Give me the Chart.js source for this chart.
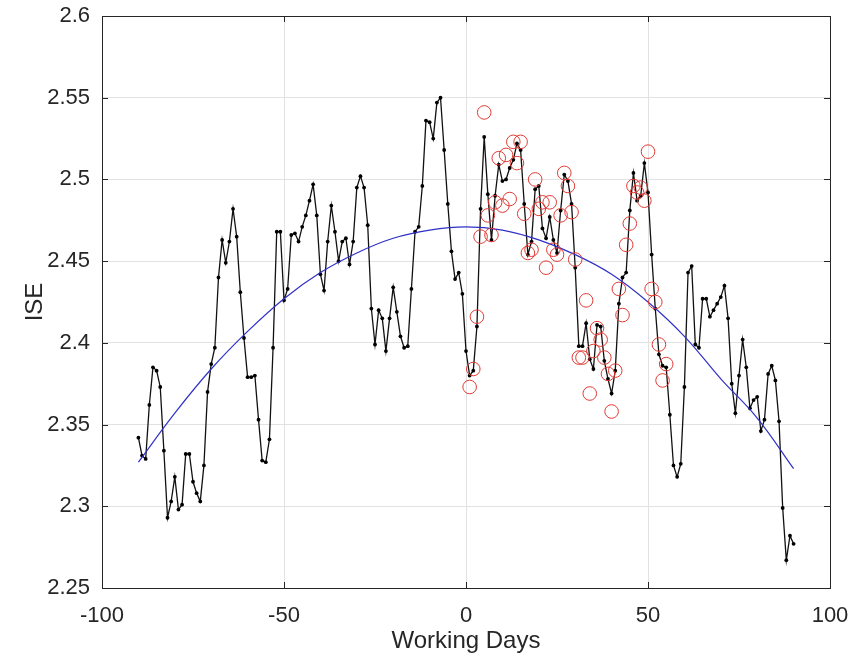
<!DOCTYPE html>
<html><head><meta charset="utf-8">
<script src="https://cdn.jsdelivr.net/npm/chart.js@4/dist/chart.umd.min.js"></script>
<style>html,body{margin:0;padding:0;background:#fff}canvas{display:block}</style>
</head><body>
<canvas id="c" width="850" height="662"></canvas>
<script>
// Black series: working day and ISE value
const days = [-90,-89,-88,-87,-86,-85,-84,-83,-82,-81,-80,-79,-78,-77,-76,-75,-74,-73,-72,-71,
-70,-69,-68,-67,-66,-65,-64,-63,-62,-61,-60,-59,-58,-57,-56,-55,-54,-53,-52,-51,
-50,-49,-48,-47,-46,-45,-44,-43,-42,-41,-40,-39,-38,-37,-36,-35,-34,-33,-32,-31,
-30,-29,-28,-27,-26,-25,-24,-23,-22,-21,-20,-19,-18,-17,-16,-15,-14,-13,-12,-11,
-10,-9,-8,-7,-6,-5,-4,-3,-2,-1,0,1,2,3,4,5,6,7,8,9,
10,11,12,13,14,15,16,17,18,19,20,21,22,23,24,25,26,27,28,29,
30,31,32,33,34,35,36,37,38,39,40,41,42,43,44,45,46,47,48,49,
50,51,52,53,54,55,56,57,58,59,60,61,62,63,64,65,66,67,68,69,
70,71,72,73,74,75,76,77,78,79,80,81,82,83,84,85,86,87,88,89,90];
const ise = [2.342,2.331,2.329,2.362,2.385,2.383,2.373,2.334,2.293,2.303,2.318,2.298,2.301,2.332,2.332,2.315,2.308,2.303,2.325,2.370,
2.387,2.397,2.440,2.463,2.449,2.462,2.482,2.465,2.431,2.403,2.379,2.379,2.380,2.353,2.328,2.327,2.341,2.397,2.468,2.468,
2.426,2.433,2.466,2.467,2.462,2.471,2.478,2.487,2.497,2.478,2.442,2.432,2.462,2.484,2.468,2.450,2.462,2.464,2.448,2.462,
2.495,2.502,2.495,2.472,2.421,2.399,2.420,2.415,2.395,2.415,2.434,2.419,2.404,2.397,2.398,2.433,2.468,2.471,2.496,2.536,
2.535,2.525,2.547,2.550,2.518,2.485,2.456,2.439,2.443,2.430,2.395,2.380,2.383,2.410,2.482,2.526,2.491,2.463,2.490,2.509,
2.499,2.500,2.507,2.512,2.522,2.518,2.485,2.454,2.462,2.494,2.496,2.470,2.464,2.477,2.463,2.455,2.481,2.503,2.499,2.485,
2.446,2.398,2.398,2.412,2.390,2.384,2.411,2.410,2.389,2.378,2.369,2.383,2.424,2.440,2.443,2.481,2.504,2.487,2.490,2.510,
2.492,2.454,2.421,2.393,2.386,2.385,2.356,2.325,2.318,2.326,2.373,2.443,2.447,2.399,2.397,2.427,2.427,2.416,2.420,2.424,
2.428,2.435,2.415,2.375,2.357,2.380,2.402,2.385,2.360,2.365,2.367,2.346,2.353,2.381,2.386,2.377,2.352,2.299,2.267,2.282,2.277];

// Red circles
const redDays = [1,2,3,4,5,6,7,8,9,10,11,12,13,14,15,16,17,18,19,20,21,22,23,24,25,26,27,28,
29,30,31,32,33,34,35,36,37,38,39,40,41,42,43,44,45,46,47,48,49,50,51,52,53,54,55];
const redIse = [2.373,2.384,2.416,2.465,2.541,2.478,2.466,2.486,2.513,2.484,2.515,2.488,2.523,2.510,2.523,2.479,2.455,2.457,2.500,2.482,2.486,2.446,2.486,2.457,2.454,2.478,2.504,2.496,
2.480,2.451,2.391,2.391,2.426,2.369,2.395,2.409,2.402,2.391,2.381,2.358,2.383,2.433,2.417,2.460,2.473,2.496,2.492,2.495,2.487,2.517,2.433,2.425,2.399,2.377,2.387];

// Blue fitted curve
const fitDays = [-90,-80,-70,-60,-50,-40,-30,-20,-10,0,10,20,30,40,50,60,70,80,90];
const fitIse = [2.327,2.357,2.384,2.407,2.427,2.443,2.455,2.464,2.469,2.471,2.469,2.463,2.454,2.442,2.425,2.404,2.378,2.354,2.323];

const xTicks = [-100,-50,0,50,100];
const xTickLabels = ['-100','-50','0','50','100'];
const yTicks = [2.25,2.3,2.35,2.4,2.45,2.5,2.55,2.6];
const yTickLabels = ['2.25','2.3','2.35','2.4','2.45','2.5','2.55','2.6'];

const toPts = (xs, ys) => xs.map((x, i) => ({x: x, y: ys[i]}));

const TXT = '#262626';
const FONT = "'Liberation Sans', Arial, Helvetica, sans-serif";

const framePlugin = {
  id: 'frame',
  afterDraw(chart) {
    const {ctx, chartArea: a, scales} = chart;
    ctx.save();
    ctx.strokeStyle = TXT;
    ctx.lineWidth = 1;
    ctx.beginPath();
    const tl = 6;
    xTicks.forEach(v => {
      const p = Math.round(scales.x.getPixelForValue(v)) + 0.5;
      ctx.moveTo(p, a.bottom); ctx.lineTo(p, a.bottom - tl);
      ctx.moveTo(p, a.top); ctx.lineTo(p, a.top + tl);
    });
    yTicks.forEach(v => {
      const p = Math.round(scales.y.getPixelForValue(v)) + 0.5;
      ctx.moveTo(a.left, p); ctx.lineTo(a.left + tl, p);
      ctx.moveTo(a.right, p); ctx.lineTo(a.right - tl, p);
    });
    ctx.stroke();
    ctx.strokeRect(a.left + 0.5, a.top + 0.5, a.right - a.left, a.bottom - a.top);
    ctx.restore();
  }
};

new Chart(document.getElementById('c'), {
  type: 'scatter',
  data: {
    datasets: [
      {
        label: 'red',
        data: toPts(redDays, redIse),
        showLine: false,
        pointStyle: 'circle',
        pointRadius: 6.8,
        pointBorderWidth: 1,
        pointBorderColor: '#e03a34',
        pointBackgroundColor: 'rgba(0,0,0,0)'
      },
      {
        label: 'fit',
        data: toPts(fitDays, fitIse),
        showLine: true,
        tension: 0.4,
        borderColor: '#3030c8',
        borderWidth: 1.2,
        pointRadius: 0
      },
      {
        label: 'ISE',
        data: toPts(days, ise),
        showLine: true,
        tension: 0,
        borderColor: '#111',
        borderWidth: 1.3,
        pointRadius: 1.9,
        pointBorderWidth: 0,
        pointBackgroundColor: '#000'
      }
    ]
  },
  options: {
    responsive: false,
    animation: false,
    devicePixelRatio: 1,
    layout: {padding: {left: 0, right: 20, top: 16, bottom: 0}},
    plugins: {legend: {display: false}, tooltip: {enabled: false}},
    scales: {
      x: {
        type: 'linear', min: -100, max: 100,
        afterBuildTicks: s => { s.ticks = xTicks.map(v => ({value: v})); },
        afterFit: s => { s.height = 74; s.paddingLeft = 0; s.paddingRight = 0; },
        grid: {color: '#e2e2e2', drawTicks: false, lineWidth: 1},
        border: {display: false},
        ticks: {
          padding: 15, color: TXT, maxRotation: 0,
          font: {family: FONT, size: 22},
          callback: (v, i) => xTickLabels[i]
        },
        title: {display: true, text: 'Working Days', color: TXT,
          font: {family: FONT, size: 24}, padding: {top: 0, bottom: 6}}
      },
      y: {
        type: 'linear', min: 2.25, max: 2.6,
        afterBuildTicks: s => { s.ticks = yTicks.map(v => ({value: v})); },
        afterFit: s => { s.width = 102; s.paddingTop = 0; s.paddingBottom = 0; },
        grid: {color: '#e2e2e2', drawTicks: false, lineWidth: 1},
        border: {display: false},
        ticks: {
          padding: 12, color: TXT,
          font: {family: FONT, size: 22},
          callback: (v, i) => yTickLabels[i]
        },
        title: {display: true, text: 'ISE', color: TXT,
          font: {family: FONT, size: 24}, padding: {top: 21, bottom: 0}}
      }
    }
  },
  plugins: [framePlugin]
});
</script>
</body></html>
